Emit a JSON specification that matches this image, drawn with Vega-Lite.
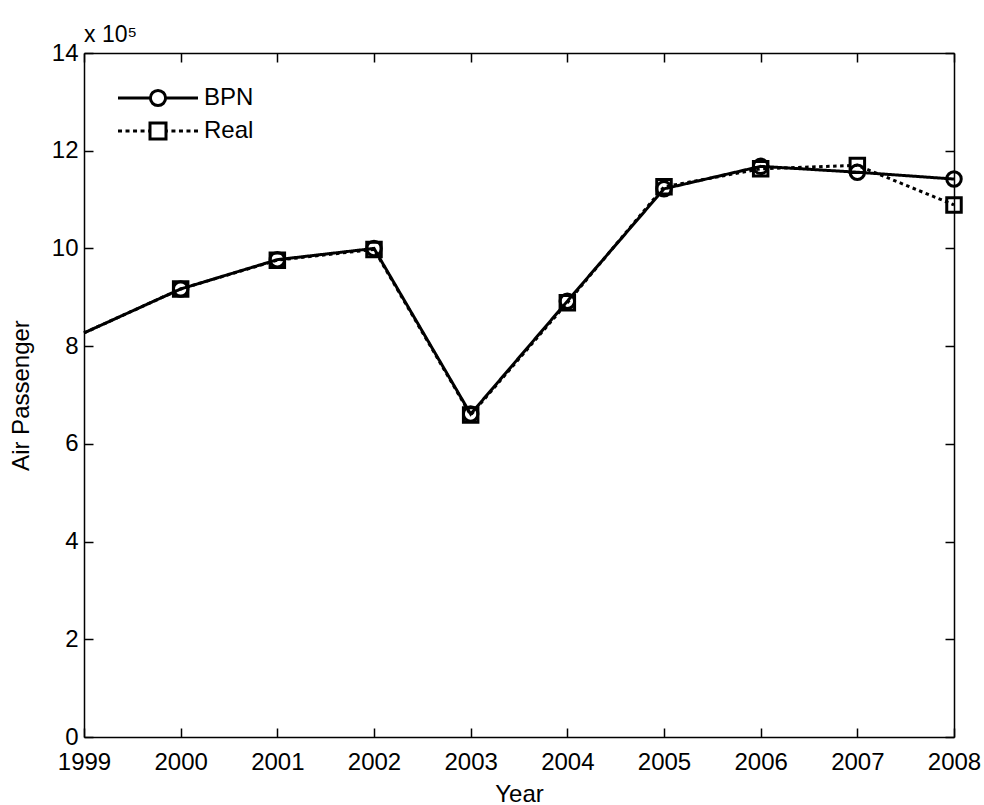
{
  "$schema": "https://vega.github.io/schema/vega-lite/v6.json",
  "width": 870,
  "height": 684,
  "autosize": {"type": "none"},
  "padding": {"left": 84, "top": 53, "right": 30, "bottom": 68},
  "background": "white",
  "config": {
    "view": {"stroke": null},
    "font": "Liberation Sans",
    "axis": {
      "grid": false,
      "domainColor": "black",
      "domainWidth": 1.5,
      "tickColor": "black",
      "tickWidth": 1.5,
      "tickSize": -9,
      "labelColor": "black",
      "labelFont": "Liberation Sans",
      "labelFontSize": 24,
      "titleFont": "Liberation Sans",
      "titleFontSize": 24,
      "titleFontWeight": "normal",
      "titleColor": "black"
    }
  },
  "title": {
    "text": "x 10⁵",
    "anchor": "start",
    "frame": "group",
    "fontSize": 23,
    "fontWeight": "normal",
    "font": "Liberation Sans",
    "color": "black",
    "offset": -6
  },
  "data": {
    "values": [
      {"year": 1999, "series": "BPN", "value": 827000},
      {"year": 2000, "series": "BPN", "value": 917000},
      {"year": 2001, "series": "BPN", "value": 977000},
      {"year": 2002, "series": "BPN", "value": 1000000},
      {"year": 2003, "series": "BPN", "value": 661000},
      {"year": 2004, "series": "BPN", "value": 892000},
      {"year": 2005, "series": "BPN", "value": 1122000},
      {"year": 2006, "series": "BPN", "value": 1168000},
      {"year": 2007, "series": "BPN", "value": 1156000},
      {"year": 2008, "series": "BPN", "value": 1142000},
      {"year": 1999, "series": "Real", "value": 827000},
      {"year": 2000, "series": "Real", "value": 917000},
      {"year": 2001, "series": "Real", "value": 976000},
      {"year": 2002, "series": "Real", "value": 998000},
      {"year": 2003, "series": "Real", "value": 659000},
      {"year": 2004, "series": "Real", "value": 889000},
      {"year": 2005, "series": "Real", "value": 1126000},
      {"year": 2006, "series": "Real", "value": 1163000},
      {"year": 2007, "series": "Real", "value": 1170000},
      {"year": 2008, "series": "Real", "value": 1089000}
    ]
  },
  "layer": [
    {
      "mark": {"type": "line", "strokeWidth": 3, "color": "black", "strokeCap": "butt"},
      "encoding": {
        "x": {
          "field": "year",
          "type": "quantitative",
          "scale": {"domain": [1999, 2008], "nice": false, "zero": false},
          "axis": {
            "orient": "bottom",
            "title": "Year",
            "values": [1999, 2000, 2001, 2002, 2003, 2004, 2005, 2006, 2007, 2008],
            "format": "d",
            "labelPadding": 22,
            "titlePadding": 8,
            "labelFlush": false,
            "labelOverlap": false
          }
        },
        "y": {
          "field": "value",
          "type": "quantitative",
          "scale": {"domain": [0, 1400000], "nice": false},
          "axis": {
            "orient": "left",
            "title": "Air Passenger",
            "values": [0, 200000, 400000, 600000, 800000, 1000000, 1200000, 1400000],
            "labelExpr": "format(datum.value / 100000, 'd')",
            "labelPadding": 15,
            "titlePadding": 18,
            "labelFlush": false,
            "labelOverlap": false
          }
        },
        "detail": {"field": "series", "type": "nominal"},
        "strokeDash": {
          "condition": {"test": "datum.series === 'Real'", "value": [3.5, 3.5]},
          "value": [1, 0]
        },
        "opacity": {
          "field": "series",
          "type": "nominal",
          "scale": {"domain": ["BPN", "Real"], "range": [1, 1]},
          "legend": {
            "title": null,
            "orient": "none",
            "legendX": 62,
            "legendY": 33,
            "padding": 0,
            "symbolSize": 256,
            "symbolStrokeWidth": 3,
            "symbolStrokeColor": "black",
            "symbolFillColor": "transparent",
            "symbolOpacity": 1,
            "labelFont": "Liberation Sans",
            "labelFontSize": 24,
            "labelColor": "black",
            "labelOffset": 34,
            "rowPadding": 5,
            "encode": {
              "symbols": {
                "update": {
                  "shape": {"signal": "datum.value === 'BPN' ? 'M-5,0H-0.95M0.95,0H5M-0.95,0A0.95,0.95,0,1,1,0.95,0A0.95,0.95,0,1,1,-0.95,0' : 'M-5,0H-4.5M-4.06,0H-3.56M-3.12,0H-2.62M-2.18,0H-1.68M-1.24,0H-1M1,0H1.24M1.68,0H2.18M2.62,0H3.12M3.56,0H4.06M4.5,0H5M-1,-1H1V1H-1Z'"},
                  "stroke": {"value": "black"},
                  "fill": {"value": "transparent"},
                  "strokeWidth": {"value": 3},
                  "opacity": {"value": 1}
                }
              }
            }
          }
        }
      }
    },
    {
      "transform": [{"filter": "datum.year >= 2000"}],
      "mark": {"type": "point", "filled": false, "strokeWidth": 3, "color": "black", "opacity": 1},
      "encoding": {
        "x": {"field": "year", "type": "quantitative", "axis": null},
        "y": {"field": "value", "type": "quantitative", "axis": null},
        "shape": {
          "condition": {"test": "datum.series === 'BPN'", "value": "circle"},
          "value": "square"
        },
        "size": {"value": 210}
      }
    },
    {
      "mark": {"type": "point", "opacity": 0},
      "encoding": {
        "x": {
          "field": "year",
          "type": "quantitative",
          "axis": {
            "orient": "top",
            "title": null,
            "labels": false,
            "values": [1999, 2000, 2001, 2002, 2003, 2004, 2005, 2006, 2007, 2008]
          }
        },
        "y": {
          "field": "value",
          "type": "quantitative",
          "axis": {
            "orient": "right",
            "title": null,
            "labels": false,
            "values": [0, 200000, 400000, 600000, 800000, 1000000, 1200000, 1400000]
          }
        }
      }
    }
  ],
  "resolve": {"axis": {"x": "independent", "y": "independent"}}
}
